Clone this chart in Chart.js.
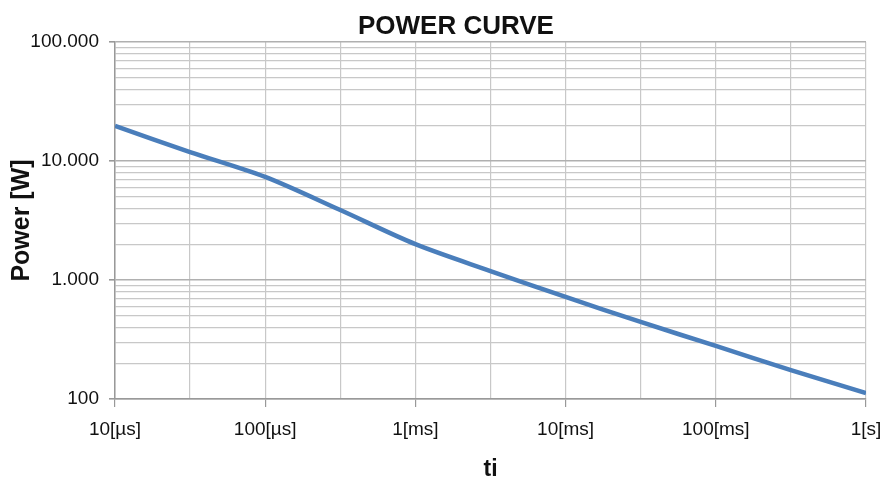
<!DOCTYPE html>
<html>
<head>
<meta charset="utf-8">
<script src="https://cdn.jsdelivr.net/npm/chart.js@4"></script>
<style>
    html, body { margin: 0; padding: 0; background: #ffffff; }
    #chartPotencia { display: block; }
</style>
</head>
<body>
<canvas id="chartPotencia" width="885" height="479"></canvas>
<script>
// tempos em segundos (10us .. 1s) e potencia em W
const tempos = [1e-5, 3.16e-5, 1e-4, 3.16e-4, 1e-3, 3.16e-3, 1e-2, 3.16e-2, 1e-1, 3.16e-1, 1];
const potencias = [19700, 11900, 7350, 3870, 2000, 1190, 720, 444, 279, 175, 112];

const ticksX = [1e-5, 1e-4, 1e-3, 1e-2, 1e-1, 1];
const labelsX = ['10[µs]', '100[µs]', '1[ms]', '10[ms]', '100[ms]', '1[s]'];
const gradeX = [3.16e-5, 3.16e-4, 3.16e-3, 3.16e-2, 3.16e-1];

const ticksY = [100, 1000, 10000, 100000];
const labelsY = ['100', '1.000', '10.000', '100.000'];
const menoresY = [2, 3, 4, 5, 6, 7, 8, 9];

const TITULO = 'POWER CURVE';
const FONTE = "'Liberation Sans', Arial, sans-serif";

function ehPrincipal(lista, valor) {
    return lista.some(v => Math.abs(v - valor) / v < 1e-6);
}

// titulo desenhado a mao pra ficar um pouco deslocado como no original
const tituloPlugin = {
    id: 'tituloPlugin',
    afterDraw(chart) {
        const ctx = chart.ctx;
        const area = chart.chartArea;
        ctx.save();
        ctx.font = `bold 26px ${FONTE}`;
        ctx.fillStyle = '#111111';
        ctx.textAlign = 'center';
        ctx.textBaseline = 'middle';
        ctx.fillText(TITULO, area.left + area.width * 0.454, area.top / 2 + 6);
        ctx.restore();
    }
};

const config = {
    type: 'line',
    data: {
        datasets: [{
            label: 'Power',
            data: tempos.map((t, i) => ({ x: t, y: potencias[i] })),
            borderColor: '#4a7ebb',
            borderWidth: 4.5,
            pointRadius: 0,
            tension: 0.3,
            fill: false
        }]
    },
    options: {
        responsive: false,
        animation: false,
        layout: {
            padding: { left: 6, right: 19, top: 42, bottom: 0 }
        },
        scales: {
            x: {
                type: 'logarithmic',
                min: 1e-5,
                max: 1,
                afterBuildTicks: (scale) => {
                    const todos = ticksX.concat(gradeX).sort((a, b) => a - b);
                    scale.ticks = todos.map(v => ({ value: v }));
                },
                afterFit: (scale) => {
                    scale.height = 80;
                    scale.paddingLeft = 0;
                    scale.paddingRight = 0;
                },
                ticks: {
                    autoSkip: false,
                    maxRotation: 0,
                    padding: 11,
                    color: '#111111',
                    font: { family: FONTE, size: 19 },
                    callback: function (value) {
                        const idx = ticksX.findIndex(v => Math.abs(v - value) / v < 1e-6);
                        return idx >= 0 ? labelsX[idx] : '';
                    }
                },
                grid: {
                    color: '#c8c8c8',
                    lineWidth: 1.2,
                    tickLength: 8,
                    tickColor: (ctx) => ehPrincipal(ticksX, ctx.tick.value) ? '#999999' : 'rgba(0,0,0,0)'
                },
                border: { color: '#999999', width: 1.5 },
                title: {
                    display: true,
                    text: 'ti',
                    color: '#111111',
                    font: { family: FONTE, size: 23, weight: 'bold' },
                    padding: { top: -4, bottom: -4 }
                }
            },
            y: {
                type: 'logarithmic',
                min: 100,
                max: 100000,
                afterBuildTicks: (scale) => {
                    const lista = [];
                    ticksY.forEach((d, i) => {
                        lista.push(d);
                        if (i < ticksY.length - 1) menoresY.forEach(m => lista.push(d * m));
                    });
                    scale.ticks = lista.map(v => ({ value: v }));
                },
                afterFit: (scale) => {
                    scale.width = 109;
                    scale.paddingTop = 0;
                    scale.paddingBottom = 0;
                },
                ticks: {
                    autoSkip: false,
                    padding: 10,
                    color: '#111111',
                    font: { family: FONTE, size: 19 },
                    callback: function (value) {
                        const idx = ticksY.findIndex(v => Math.abs(v - value) / v < 1e-6);
                        return idx >= 0 ? labelsY[idx] : '';
                    }
                },
                grid: {
                    color: (ctx) => ehPrincipal(ticksY, ctx.tick.value) ? '#b0b0b0' : '#c8c8c8',
                    lineWidth: (ctx) => ehPrincipal(ticksY, ctx.tick.value) ? 1.6 : 1.2,
                    tickLength: 6,
                    tickColor: (ctx) => ehPrincipal(ticksY, ctx.tick.value) ? '#999999' : 'rgba(0,0,0,0)'
                },
                border: { color: '#999999', width: 1.5 },
                title: {
                    display: true,
                    text: 'Power [W]',
                    color: '#111111',
                    font: { family: FONTE, size: 25, weight: 'bold' },
                    padding: { top: 1, bottom: 1 }
                }
            }
        },
        plugins: {
            legend: { display: false },
            tooltip: { enabled: false },
            title: { display: false }
        }
    },
    plugins: [tituloPlugin]
};

new Chart(document.getElementById('chartPotencia'), config);
</script>
</body>
</html>
